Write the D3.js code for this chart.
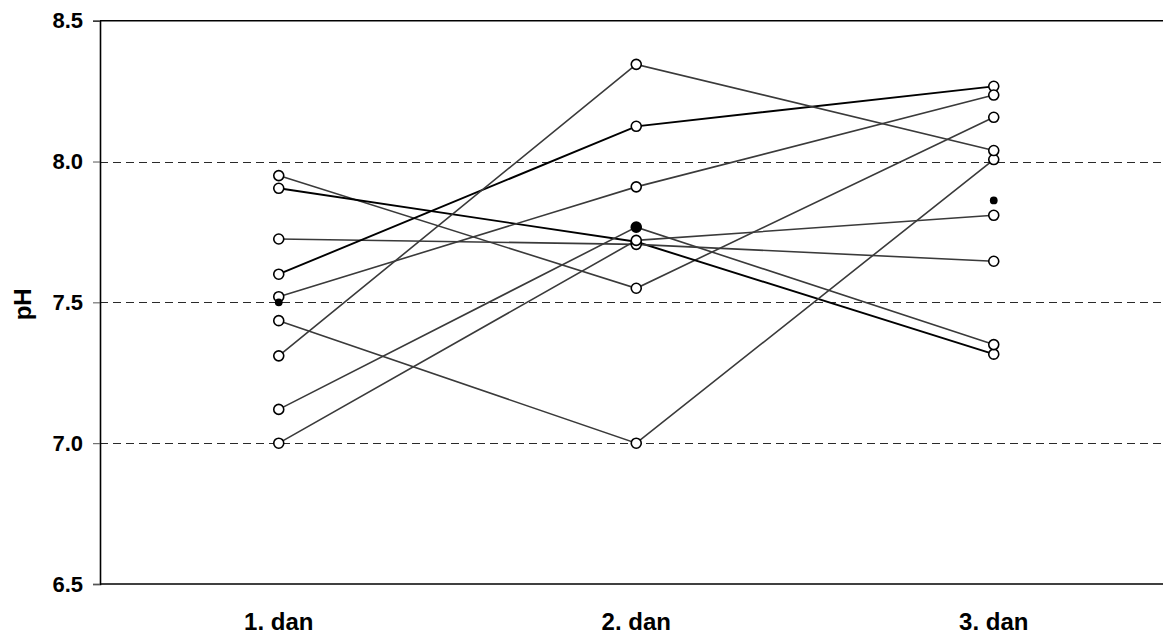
<!DOCTYPE html>
<html>
<head>
<meta charset="utf-8">
<script src="https://cdn.jsdelivr.net/npm/d3@7"></script>
<style>
  html, body { margin: 0; padding: 0; background: #fff; }
  svg { display: block; }
  text { font-family: "Liberation Sans", Arial, sans-serif; font-weight: bold; fill: #000; }
</style>
</head>
<body>
<svg id="chart" width="1163" height="641"></svg>
<script>
// ---- data ----
const days = ["1. dan", "2. dan", "3. dan"];
const yTicks = [6.5, 7.0, 7.5, 8.0, 8.5];
const gridValues = [7.0, 7.5, 8.0];
// each subject: pH on day 1, day 2, day 3
const subjA = [7.95, 7.55, 8.157];
const subjB = [7.905, 7.715, 7.316];
const subjC = [7.725, 7.706, 7.646];
const subjD = [7.60, 8.125, 8.267];
const subjE = [7.52, 7.91, 8.236];
const subjF = [7.435, 7.00, 8.007];
const subjG = [7.31, 8.345, 8.039];
const subjH = [7.12, 7.767, 7.35];
const subjI = [7.00, 7.72, 7.809];
const subjects = [subjA, subjB, subjC, subjD, subjE, subjF, subjG, subjH, subjI];
const darkSubjects = [1, 3]; // drawn in black
const means = [7.50, 7.767, 7.862];

// ---- layout ----
const svg = d3.select("#chart");
const pLeft = 100, pRight = 1172.5, pTop = 20.7, pBottom = 584;

const x = d3.scaleBand().domain(days).range([pLeft, pRight]).padding(0);
const cx = d => x(d) + x.bandwidth() / 2;
const y = d3.scaleLinear().domain([6.5, 8.5]).range([pBottom, pTop]);

// dashed gridlines
svg.append("g").selectAll("line").data(gridValues).join("line")
  .attr("x1", pLeft).attr("x2", pRight)
  .attr("y1", d => Math.round(y(d)) + 0.5).attr("y2", d => Math.round(y(d)) + 0.5)
  .attr("stroke", "#2a2a2a").attr("stroke-width", 1.1)
  .attr("stroke-dasharray", "8,5");

// plot frame (top & bottom)
svg.append("line").attr("x1", pLeft).attr("x2", pRight)
  .attr("y1", y(8.5)).attr("y2", y(8.5)).attr("stroke", "#000").attr("stroke-width", 1.4);
svg.append("line").attr("x1", pLeft).attr("x2", pRight)
  .attr("y1", y(6.5)).attr("y2", y(6.5)).attr("stroke", "#000").attr("stroke-width", 1.4);

// y axis
const yAxis = d3.axisLeft(y).tickValues(yTicks).tickFormat(d3.format(".1f"))
  .tickSize(7).tickPadding(10);
const gy = svg.append("g").attr("transform", `translate(${pLeft},0)`).call(yAxis);
gy.select(".domain").attr("stroke", "#000").attr("stroke-width", 1.6);
gy.selectAll(".tick line").attr("stroke", "#555").attr("stroke-width", 1);
gy.selectAll(".tick text").style("font-size", "22px").style("font-weight", "bold")
  .style("font-family", "'Liberation Sans', Arial, sans-serif").attr("fill", "#000");

// x labels
const xAxis = d3.axisBottom(x).tickSize(0).tickPadding(29);
const gx = svg.append("g").attr("transform", `translate(0,${pBottom})`).call(xAxis);
gx.select(".domain").remove();
gx.selectAll(".tick text").style("font-size", "24px").style("font-weight", "bold")
  .style("font-family", "'Liberation Sans', Arial, sans-serif").attr("fill", "#000");

// y title
svg.append("text")
  .attr("transform", `translate(31,${(pTop + pBottom) / 2 + 2}) rotate(-90)`)
  .attr("text-anchor", "middle")
  .style("font-size", "24px")
  .text("pH");

// lines
const line = d3.line().x((d, i) => cx(days[i])).y(d => y(d));
svg.append("g").selectAll("path").data(subjects).join("path")
  .attr("d", line)
  .attr("fill", "none")
  .attr("stroke", (d, i) => darkSubjects.includes(i) ? "#000" : "#3a3a3a")
  .attr("stroke-width", (d, i) => darkSubjects.includes(i) ? 1.9 : 1.6);

// hollow markers
const pts = [];
subjects.forEach(s => s.forEach((v, i) => pts.push({ day: days[i], v })));
svg.append("g").selectAll("circle").data(pts).join("circle")
  .attr("cx", d => cx(d.day)).attr("cy", d => y(d.v))
  .attr("r", 5).attr("fill", "#fff")
  .attr("stroke", "#000").attr("stroke-width", 1.6);

// mean markers
svg.append("g").selectAll("circle").data(means).join("circle")
  .attr("cx", (d, i) => cx(days[i])).attr("cy", d => y(d))
  .attr("r", (d, i) => i === 1 ? 5 : 3.9).attr("fill", "#000");
</script>
</body>
</html>
